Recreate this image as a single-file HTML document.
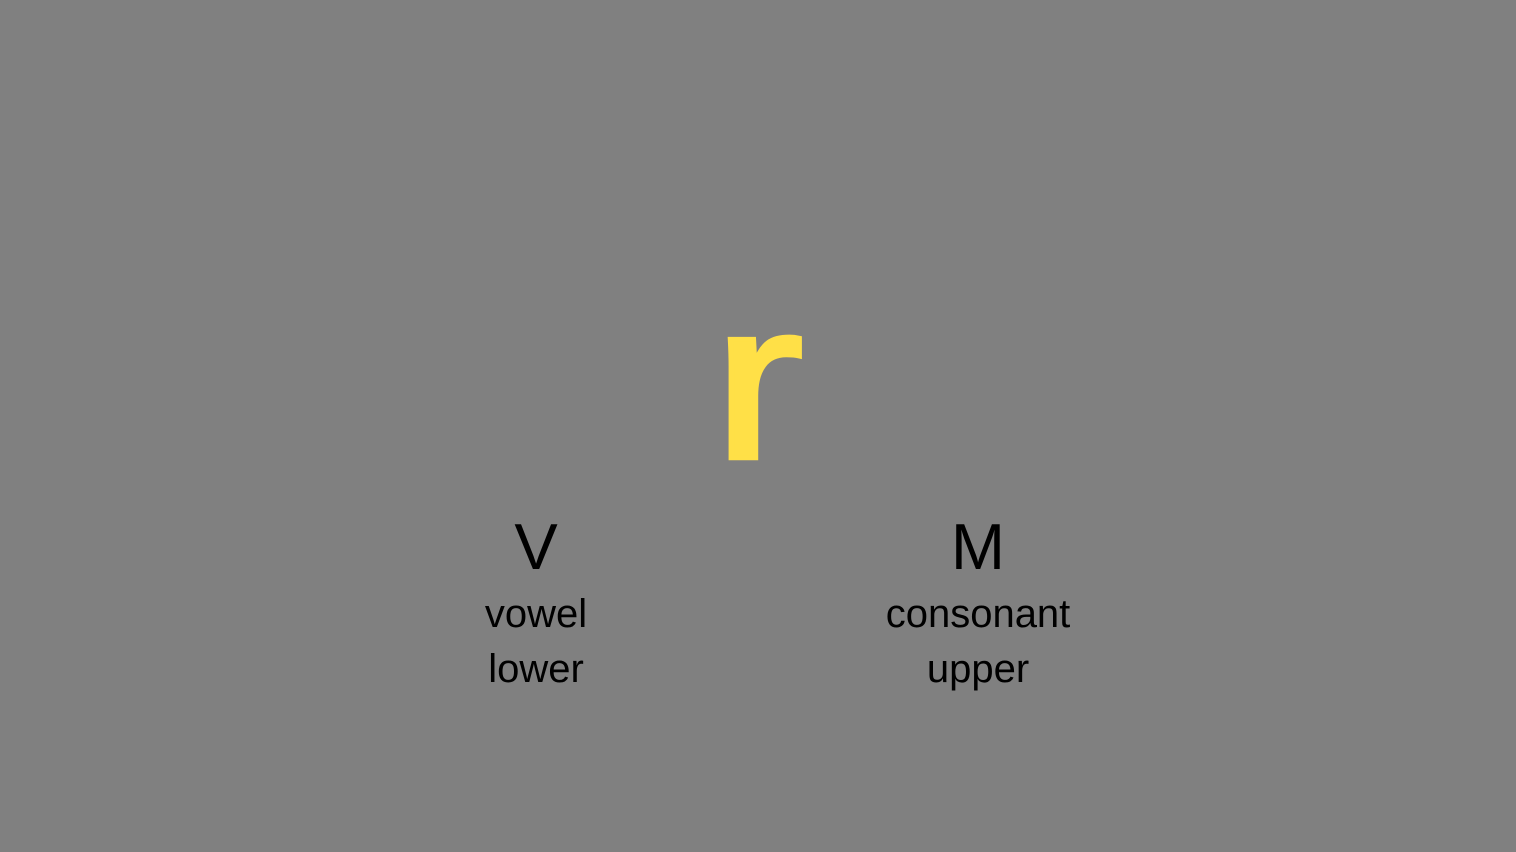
<!DOCTYPE html>
<html>
<head>
<meta charset="utf-8">
<style>
  html,body{margin:0;padding:0;width:1516px;height:852px;overflow:hidden;background:#808080;}
  svg{position:absolute;left:0;top:0;}
  text{font-family:"Liberation Sans","DejaVu Sans",sans-serif;}
</style>
</head>
<body>
<svg width="1516" height="852" viewBox="0 0 1516 852">
  <rect x="0" y="0" width="1516" height="852" fill="#808080"/>
  <text transform="translate(758,0) scale(1.22,1)" x="0" y="458" text-anchor="middle" font-size="225" fill="#FFE047" stroke="#FFE047" stroke-width="4.5">r</text>

  <g>
    <text x="536" y="569" text-anchor="middle" font-size="65" fill="#000">V</text>
    <text x="536" y="627" text-anchor="middle" font-size="40" fill="#000">vowel</text>
    <text x="536" y="682" text-anchor="middle" font-size="40" fill="#000">lower</text>
  </g>

  <g>
    <text x="978" y="569" text-anchor="middle" font-size="65" fill="#000">M</text>
    <text x="978" y="627" text-anchor="middle" font-size="40" fill="#000">consonant</text>
    <text x="978" y="682" text-anchor="middle" font-size="40" fill="#000">upper</text>
  </g>
</svg>
</body>
</html>
